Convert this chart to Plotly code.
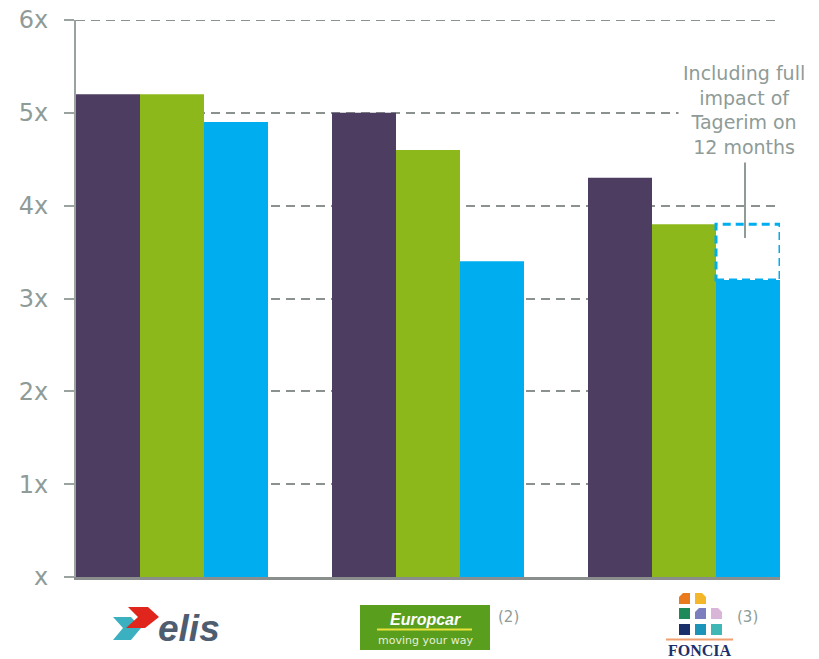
import plotly.graph_objects as go

# ---- data ----
companies = ["Elis", "Europcar", "Foncia"]
series_names = ["Series A", "Series B", "Series C"]
values_a = [5.2, 5.0, 4.3]
values_b = [5.2, 4.6, 3.8]
values_c = [4.9, 3.4, 3.2]
tagerim_full = 3.8  # Foncia incl. full impact of Tagerim
tick_vals = [0, 1, 2, 3, 4, 5, 6]
tick_text = ["x", "1x", "2x", "3x", "4x", "5x", "6x"]

colors = ["#4D3E61", "#8CB81B", "#00AEEF"]
GRAY = "#8E9B97"
FONT = "DejaVu Sans"

W, H = 819, 659
L, R, T, B = 76, 39, 20, 82
PW, PH = W - L - R, H - T - B


def px(x):
    return (x - L) / PW


def py(y):
    return (H - B - y) / PH


fig = go.Figure()
for name, vals, c in zip(series_names, [values_a, values_b, values_c], colors):
    fig.add_trace(go.Bar(x=companies, y=vals, name=name, marker_color=c,
                         marker_line_width=0))

shapes = []
annotations = []

# top gridline (plotly omits the grid at the range edge)
shapes.append(dict(type="line", xref="paper", yref="y", x0=0, x1=1,
                   y0=tick_vals[-1], y1=tick_vals[-1], layer="below",
                   line=dict(color="#8A918E", width=2, dash="9px,6px")))

# dashed box for Foncia including Tagerim (third bar slot of third group)
bargap = 0.25
bw = (1 - bargap) / 3
gi = 2
x0 = gi - (1 - bargap) / 2 + 2 * bw
shapes.append(dict(type="rect", xref="x", yref="y", x0=x0, x1=x0 + bw,
                   y0=values_c[2], y1=tagerim_full,
                   line=dict(color="#00AEEF", width=3, dash="8px,5px"),
                   fillcolor="rgba(0,0,0,0)", layer="above"))

# callout
annotations.append(dict(xref="paper", yref="paper", x=px(744), y=py(57),
                        xanchor="center", yanchor="top", showarrow=False,
                        bgcolor="white", borderpad=4,
                        text="Including full<br>impact of<br>Tagerim on<br>12 months",
                        font=dict(family=FONT, size=19, color=GRAY)))
shapes.append(dict(type="line", xref="paper", yref="paper",
                   x0=px(745), x1=px(745), y0=py(162), y1=py(238),
                   line=dict(color=GRAY, width=2)))

# ---- Elis logo ----
def path(pts):
    s = "M " + " L ".join(f"{px(a)},{py(b)}" for a, b in pts) + " Z"
    return s

shapes.append(dict(type="path", xref="paper", yref="paper", layer="above",
                   path=path([(113, 617), (131, 617), (141, 628), (131, 640),
                              (113, 640), (123, 628)]),
                   fillcolor="#3AB0C0", line=dict(width=0)))
shapes.append(dict(type="path", xref="paper", yref="paper", layer="above",
                   path=path([(128, 607), (148, 607), (159, 617), (145, 628),
                              (126, 628), (138, 617)]),
                   fillcolor="#E0261C", line=dict(width=0)))
annotations.append(dict(xref="paper", yref="paper", x=px(156), y=py(628),
                        xanchor="left", yanchor="middle", showarrow=False,
                        text="<b><i>elis</i></b>",
                        font=dict(family="Liberation Sans, Arial", size=37,
                                  color="#4F5D70")))

# ---- Europcar logo ----
shapes.append(dict(type="rect", xref="paper", yref="paper", layer="above",
                   x0=px(360), x1=px(490), y0=py(650), y1=py(605),
                   fillcolor="#5A9E1E", line=dict(width=0)))
shapes.append(dict(type="line", xref="paper", yref="paper", layer="above",
                   x0=px(377), x1=px(472), y0=py(629.5), y1=py(629.5),
                   line=dict(color="#E8E23A", width=2)))
annotations.append(dict(xref="paper", yref="paper", x=px(425), y=py(619),
                        xanchor="center", yanchor="middle", showarrow=False,
                        text="<b><i>Europcar</i></b>",
                        font=dict(family="Liberation Sans, Arial", size=16,
                                  color="white")))
annotations.append(dict(xref="paper", yref="paper", x=px(425), y=py(640),
                        xanchor="center", yanchor="middle", showarrow=False,
                        text="moving your way",
                        font=dict(family=FONT, size=11, color="#E6F0D8")))
annotations.append(dict(xref="paper", yref="paper", x=px(508), y=py(617),
                        xanchor="center", yanchor="middle", showarrow=False,
                        text="(2)",
                        font=dict(family=FONT, size=15, color=GRAY)))

# ---- Foncia logo ----
sq = [
    (679, 593, "#EA7A1E", "tl"), (695, 593, "#F5B72A", "tr"),
    (679, 608, "#1E8A5A", None), (695, 608, "#7B7FBE", "tl"), (711, 608, "#D9B5D9", "tr"),
    (679, 624, "#1B2F6B", None), (695, 624, "#1C93B8", None), (711, 624, "#3FB8B5", None),
]
for x, y, c, cut in sq:
    s = 11
    if cut == "tl":
        pts = [(x, y + 4), (x + 4, y), (x + s, y), (x + s, y + s), (x, y + s)]
    elif cut == "tr":
        pts = [(x, y), (x + s - 4, y), (x + s, y + 4), (x + s, y + s), (x, y + s)]
    else:
        pts = [(x, y), (x + s, y), (x + s, y + s), (x, y + s)]
    shapes.append(dict(type="path", xref="paper", yref="paper", layer="above",
                       path=path(pts), fillcolor=c, line=dict(width=0)))
shapes.append(dict(type="line", xref="paper", yref="paper", layer="above",
                   x0=px(666), x1=px(733), y0=py(639.5), y1=py(639.5),
                   line=dict(color="#F0A070", width=2)))
annotations.append(dict(xref="paper", yref="paper", x=px(699.5), y=py(650),
                        xanchor="center", yanchor="middle", showarrow=False,
                        text="<b>FONCIA</b>",
                        font=dict(family="Liberation Serif, DejaVu Serif", size=16,
                                  color="#1D2F6A")))
annotations.append(dict(xref="paper", yref="paper", x=px(747), y=py(617),
                        xanchor="center", yanchor="middle", showarrow=False,
                        text="(3)",
                        font=dict(family=FONT, size=15, color=GRAY)))

fig.update_layout(
    width=W, height=H,
    margin=dict(l=L, r=R, t=T, b=B, pad=0),
    paper_bgcolor="white", plot_bgcolor="white",
    barmode="group", bargap=bargap, bargroupgap=0,
    showlegend=False,
    shapes=shapes, annotations=annotations,
    font=dict(family=FONT, color=GRAY),
    xaxis=dict(range=[-0.375, 2.375], showticklabels=False, ticks="",
               showgrid=False, showline=True, linecolor="#8A8F8D", linewidth=3,
               zeroline=False, fixedrange=True, automargin=False),
    yaxis=dict(range=[0, 6], tickvals=tick_vals, ticktext=tick_text,
               ticks="outside", ticklen=10, tickwidth=2, tickcolor="#9AA3A0",
               showline=True, linecolor="#9AA3A0", linewidth=2,
               showgrid=True, gridcolor="#8A918E", gridwidth=2, griddash="9px,6px",
               zeroline=False, ticklabelstandoff=11, automargin=False,
               tickfont=dict(family=FONT, size=24, color=GRAY)),
)

fig.write_html("out.html")
